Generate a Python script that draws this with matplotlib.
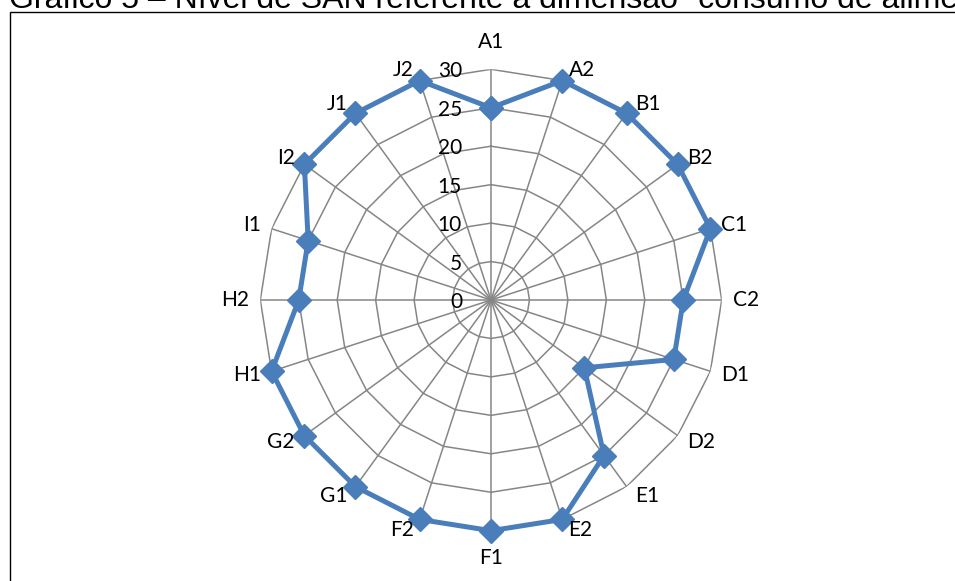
import matplotlib.pyplot as plt
import numpy as np
from matplotlib.patches import Rectangle

# Níveis por item da dimensão
categorias = ['A1', 'A2', 'B1', 'B2', 'C1', 'C2', 'D1', 'D2', 'E1', 'E2',
              'F1', 'F2', 'G1', 'G2', 'H1', 'H2', 'I1', 'I2', 'J1', 'J2']
valores = [25, 30, 30, 30, 30, 25, 25, 15, 25, 30,
           30, 30, 30, 30, 30, 25, 25, 30, 30, 30]
aneis = [5, 10, 15, 20, 25, 30]
rotulos_escala = [0, 5, 10, 15, 20, 25, 30]

titulo = 'Gráfico 5 – Nível de SAN referente à dimensão "consumo de alimentos"'

azul = '#4A7EBB'
cinza = '#868686'

n = len(categorias)
ang = np.arange(n) * 2 * np.pi / n
ang_fech = np.append(ang, ang[0])

fig = plt.figure(figsize=(9.55, 5.81), dpi=100)

# moldura do gráfico (só topo e esquerda aparecem)
fig.patches.append(Rectangle((9.5 / 955, -0.05), 1.2, (581 - 12.5) / 581 + 0.05,
                             transform=fig.transFigure, fill=False,
                             edgecolor='black', linewidth=1.0))

fig.text(9 / 955, 1 - 7.5 / 581, titulo, fontsize=23, family='Liberation Sans',
         ha='left', va='baseline')

cx, cy, R = 491, 300, 230.7
ax = fig.add_axes([(cx - R) / 955, (581 - cy - R) / 581, 2 * R / 955, 2 * R / 581],
                  projection='polar')
ax.set_theta_zero_location('N')
ax.set_theta_direction(-1)
ax.set_ylim(0, 30)
ax.grid(False)
ax.set_xticks([])
ax.set_yticks([])
ax.spines['polar'].set_visible(False)
ax.patch.set_alpha(0)

# grade poligonal
for r in aneis:
    ax.plot(ang_fech, [r] * (n + 1), color=cinza, lw=1.1, zorder=1)
for a in ang:
    ax.plot([a, a], [0, 30], color=cinza, lw=1.1, zorder=1)

# série
ax.plot(ang_fech, valores + valores[:1], color=azul, lw=3.6, zorder=3,
        marker='D', markersize=12.5, markerfacecolor=azul, markeredgecolor=azul,
        clip_on=False)

fonte = 'Lato'

# rótulos da escala
for v in rotulos_escala:
    ax.annotate(str(v), xy=(0, v), xytext=(-29, -2), textcoords='offset pixels',
                ha='right', va='center', fontsize=15, family=fonte)

# rótulos das categorias
for a, nome in zip(ang, categorias):
    s, c = np.sin(a), np.cos(a)
    if abs(s) < 0.05:
        dx, dy, ha = 0, 27 * np.sign(c), 'center'
    else:
        dx = (4 + 7 * abs(s)) * np.sign(s)
        dy = 11 * c
        ha = 'left' if s > 0 else 'right'
    ax.annotate(nome, xy=(a, 30), xytext=(dx, dy), textcoords='offset pixels',
                ha=ha, va='center', fontsize=15, family=fonte, zorder=4)

fig.savefig('out.png', dpi=100)
